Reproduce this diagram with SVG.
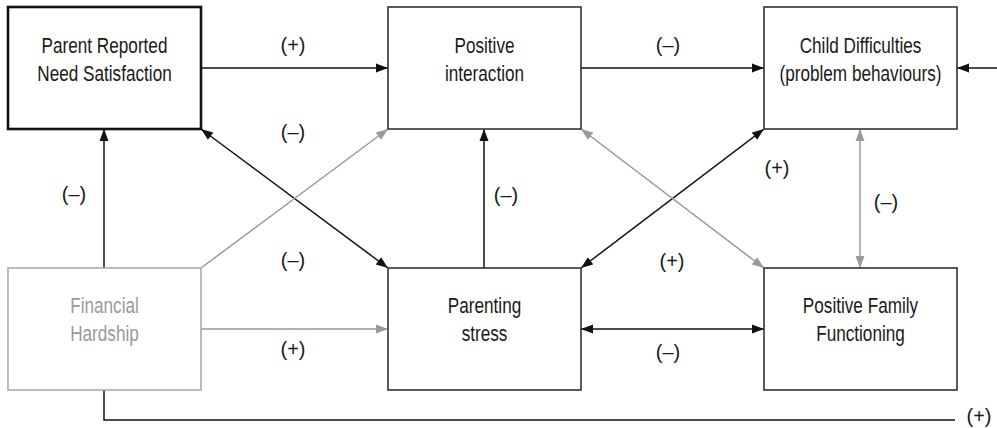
<svg xmlns="http://www.w3.org/2000/svg" width="997" height="428" viewBox="0 0 997 428">
<defs>
<style>
text{font-family:"Liberation Sans",Arial,sans-serif;font-size:22px;fill:#1a1a1a;text-anchor:middle}
.box{fill:#fff;stroke:#333;stroke-width:1.6}
.boxg{fill:#fff;stroke:#aaa;stroke-width:1.6}
.txtg{fill:#9a9a9a}
.c{fill:none;stroke:#111;stroke-width:1.5}
.cg{fill:none;stroke:#999;stroke-width:1.5}
.lbl{font-size:20px}
</style>
<marker id="ah" markerUnits="userSpaceOnUse" markerWidth="12" markerHeight="10" refX="12" refY="4.5" orient="auto-start-reverse" viewBox="0 0 12 9"><path d="M0,0 L12,4.5 L0,9 z" fill="#111"/></marker>
<marker id="ahg" markerUnits="userSpaceOnUse" markerWidth="12" markerHeight="10" refX="12" refY="4.5" orient="auto-start-reverse" viewBox="0 0 12 9"><path d="M0,0 L12,4.5 L0,9 z" fill="#999"/></marker>
</defs>
<rect width="997" height="428" fill="#fff"/>
<g id="connectors">
<line class="c" x1="201" y1="68" x2="388" y2="68" marker-end="url(#ah)"/>
<line class="c" x1="581" y1="68" x2="764" y2="68" marker-end="url(#ah)"/>
<line class="c" x1="997" y1="68" x2="957" y2="68" marker-end="url(#ah)"/>
<line class="c" x1="104" y1="268" x2="104" y2="129" marker-end="url(#ah)"/>
<line class="c" x1="201" y1="129" x2="388" y2="268" marker-start="url(#ah)" marker-end="url(#ah)"/>
<line class="cg" x1="201" y1="268" x2="388" y2="129" marker-end="url(#ahg)"/>
<line class="c" x1="484" y1="268" x2="484" y2="129" marker-end="url(#ah)"/>
<line class="c" x1="581" y1="268" x2="764" y2="129" marker-start="url(#ah)" marker-end="url(#ah)"/>
<line class="cg" x1="581" y1="129" x2="764" y2="268" marker-start="url(#ahg)" marker-end="url(#ahg)"/>
<line class="cg" x1="860" y1="129" x2="860" y2="268" marker-start="url(#ahg)" marker-end="url(#ahg)"/>
<line class="c" x1="581" y1="329" x2="764" y2="329" marker-start="url(#ah)" marker-end="url(#ah)"/>
<line class="cg" x1="201" y1="329" x2="388" y2="329" marker-end="url(#ahg)"/>
<polyline class="c" points="104,390 104,420 955,420"/>
<text class="lbl" x="293" y="52">(+)</text>
<text class="lbl" x="668" y="52">(–)</text>
<text class="lbl" x="293" y="139">(–)</text>
<text class="lbl" x="74" y="201">(–)</text>
<text class="lbl" x="506" y="202">(–)</text>
<text class="lbl" x="777" y="175">(+)</text>
<text class="lbl" x="886" y="209">(–)</text>
<text class="lbl" x="293" y="267">(–)</text>
<text class="lbl" x="672" y="268">(+)</text>
<text class="lbl" x="293" y="356">(+)</text>
<text class="lbl" x="668" y="359">(–)</text>
<text class="lbl" x="979" y="423">(+)</text>
</g>
<g id="parent-need">
<rect x="8" y="7" width="193" height="122" fill="#fff" stroke="#111" stroke-width="2.6"/>
<text transform="translate(104.5 53) scale(0.78 1)">Parent Reported</text>
<text transform="translate(104.5 81) scale(0.78 1)">Need Satisfaction</text>
</g>
<g id="positive-interaction">
<rect class="box" x="388" y="7" width="193" height="122"/>
<text transform="translate(484.5 53) scale(0.78 1)">Positive</text>
<text transform="translate(484.5 81) scale(0.78 1)">interaction</text>
</g>
<g id="child-difficulties">
<rect class="box" x="764" y="7" width="193" height="122"/>
<text transform="translate(860.5 53) scale(0.78 1)">Child Difficulties</text>
<text transform="translate(860.5 81) scale(0.78 1)">(problem behaviours)</text>
</g>
<g id="financial-hardship">
<rect class="boxg" x="8" y="268" width="193" height="122"/>
<text class="txtg" transform="translate(104.5 313) scale(0.78 1)">Financial</text>
<text class="txtg" transform="translate(104.5 341) scale(0.78 1)">Hardship</text>
</g>
<g id="parenting-stress">
<rect class="box" x="388" y="268" width="193" height="122"/>
<text transform="translate(484.5 313) scale(0.78 1)">Parenting</text>
<text transform="translate(484.5 341) scale(0.78 1)">stress</text>
</g>
<g id="family-functioning">
<rect class="box" x="764" y="268" width="193" height="122"/>
<text transform="translate(860.5 313) scale(0.78 1)">Positive Family</text>
<text transform="translate(860.5 341) scale(0.78 1)">Functioning</text>
</g>
</svg>
